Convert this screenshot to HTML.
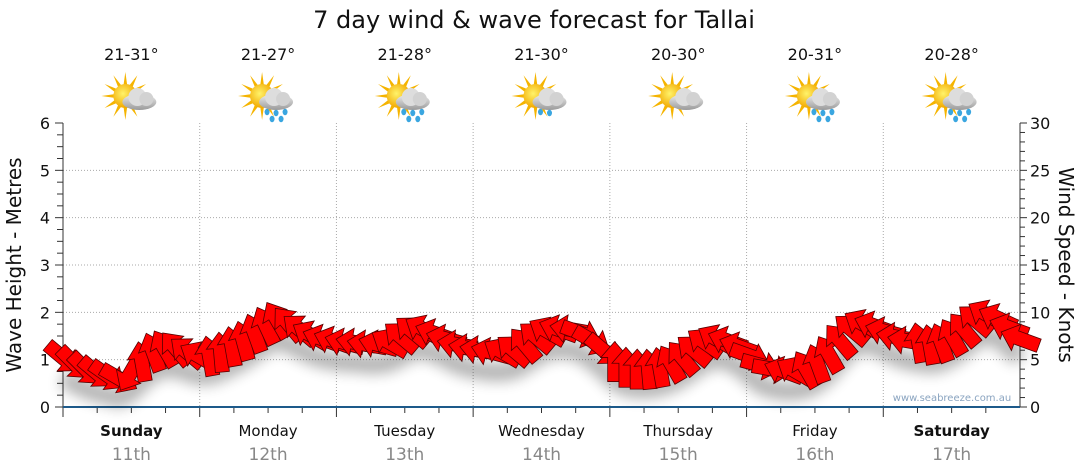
<!DOCTYPE html>
<html><head><meta charset="utf-8"><style>
body{margin:0;background:#fff;font-family:"DejaVu Sans","Liberation Sans",sans-serif}
svg{display:block}
</style></head><body>
<svg id="c" width="1080" height="475" viewBox="0 0 1080 475">
<defs>
<filter id="sh" x="-10%" y="-50%" width="120%" height="200%"><feGaussianBlur stdDeviation="7"/></filter>
<radialGradient id="sun" cx="0.4" cy="0.4" r="0.6"><stop offset="0" stop-color="#fff36a"/><stop offset="1" stop-color="#f2a800"/></radialGradient>
<linearGradient id="cl" x1="0" y1="0" x2="0" y2="1"><stop offset="0" stop-color="#eeeeee"/><stop offset="1" stop-color="#9a9a9a"/></linearGradient>
</defs>
<text x="534" y="28" text-anchor="middle" font-size="24" fill="#111">7 day wind &amp; wave forecast for Tallai</text>
<g id="grid"></g>
<g id="axes"></g>
<g id="icons"></g>
<g id="shadow" filter="url(#sh)" opacity="0.3"></g>
<g id="arrows"></g>
<text x="952" y="401" text-anchor="middle" font-size="10" fill="#8aa4c0">www.seabreeze.com.au</text>
<text transform="translate(21,265) rotate(-90)" text-anchor="middle" font-size="20" fill="#111">Wave Height - Metres</text>
<text transform="translate(1059,265) rotate(90)" text-anchor="middle" font-size="20" fill="#111">Wind Speed - Knots</text>
</svg>
<script>
const days=["Sunday","Monday","Tuesday","Wednesday","Thursday","Friday","Saturday"];
const dates=["11th","12th","13th","14th","15th","16th","17th"];
const temps=["21-31°","21-27°","21-28°","21-30°","20-30°","20-31°","20-28°"];
const rain=[0,1,1,0.5,0,1,1];
const waveTicks=[0,1,2,3,4,5,6];
const windTicks=[0,5,10,15,20,25,30];
const windSpeed=[5.2,4.6,4.0,3.6,3.3,3.0,3.6,4.8,5.8,6.2,6.2,5.8,5.4,
5.4,5.8,6.4,7.0,7.8,8.6,9.2,8.8,8.2,7.6,7.2,7.0,
6.8,6.8,6.6,6.6,6.8,7.4,8.0,8.2,7.8,7.2,6.6,6.2,
6.0,5.8,5.8,6.0,6.6,7.4,8.0,8.2,8.2,7.8,7.0,6.0,
4.8,4.2,4.0,4.0,4.2,4.6,5.2,6.0,6.8,7.2,7.0,6.4,
5.4,4.4,4.0,3.8,3.8,4.0,4.6,5.6,7.0,8.2,8.8,8.6,
8.0,7.4,7.0,6.8,6.6,6.8,7.4,8.2,9.2,9.8,9.4,8.4,7.2];
const windDir=[40,45,45,40,35,30,120,-100,-110,-120,-130,-140,-150,
-100,-95,-100,-105,-110,-115,-120,-130,-140,-150,-160,-160,
-165,-170,-170,-165,-150,-140,-140,-150,-160,-165,-170,-170,
-170,-165,-150,-140,-130,-140,-150,-160,-170,20,30,40,
-90,-90,-90,-95,-100,-120,-130,-140,-145,-150,-160,-160,
20,15,10,-160,-150,-120,-110,-120,-130,-140,-150,-160,
-165,-170,-170,-100,-100,-110,-120,-130,-140,-150,-155,-160,-160];
const NS="http://www.w3.org/2000/svg";
const X0=63,X1=1020,Y0=407,Y1=123,NPTS=windSpeed.length-1;
const xOf=i=>X0+(X1-X0)*i/NPTS;
const yW=m=>Y0-(Y0-Y1)*m/6;
const yK=k=>Y0-(Y0-Y1)*k/30;
function mk(tag,attrs,parent){const e=document.createElementNS(NS,tag);for(const k in attrs)e.setAttribute(k,attrs[k]);parent.appendChild(e);return e;}
const grid=document.getElementById('grid'),axes=document.getElementById('axes'),icons=document.getElementById('icons');
const dw=(X1-X0)/7;
waveTicks.forEach(t=>{
  if(t>0&&t<6){const l=mk('line',{x1:X0,x2:X1,y1:yW(t),y2:yW(t),stroke:'#aaa','stroke-dasharray':'1,2'},grid);
  }
  const tx=mk('text',{x:50,y:yW(t)+6,'text-anchor':'end','font-size':16,fill:'#111'},axes);tx.textContent=t;
  
});
for(let m=0;m<=6;m+=0.25){mk('line',{x1:m%1?57:55,x2:X0,y1:yW(m),y2:yW(m),stroke:'#333'},axes);}
for(let m=0;m<=30;m+=1){mk('line',{x1:X1,x2:m%5?X1+5:X1+7,y1:yK(m),y2:yK(m),stroke:'#333'},axes);}
windTicks.forEach(t=>{const tx=mk('text',{x:1030,y:yK(t)+6,'font-size':16,fill:'#111'},axes);tx.textContent=t;
  });
mk('line',{x1:X0,x2:X0,y1:Y1,y2:Y0,stroke:'#333'},axes);
mk('line',{x1:X1,x2:X1,y1:Y1,y2:Y0,stroke:'#333'},axes);
for(let d=0;d<7;d++){
  const x=X0+dw*d;
  if(d>0){const g=mk('line',{x1:x,x2:x,y1:Y1,y2:Y0,stroke:'#aaa','stroke-dasharray':'1,2'},grid);
  }
  for(let q=0;q<4;q++){mk('line',{x1:x+dw*q/4,x2:x+dw*q/4,y1:Y0,y2:Y0+(q?6:10),stroke:'#333'},axes);}
  const cx=x+dw/2;
  const a=mk('text',{x:cx,y:436,'text-anchor':'middle','font-size':15,fill:'#111','font-weight':(d==0||d==6)?'bold':'normal'},axes);a.textContent=days[d];
  
  const b=mk('text',{x:cx,y:460,'text-anchor':'middle','font-size':17,fill:'#888'},axes);b.textContent=dates[d];
  
  const t=mk('text',{x:cx,y:60,'text-anchor':'middle','font-size':16,fill:'#111'},icons);t.textContent=temps[d];
  
  const g=mk('g',{transform:`translate(${cx+2},100)`},icons);
  
  for(let r=0;r<12;r++){const ang=r*30*Math.PI/180;mk('polygon',{points:`${Math.cos(ang)*24-8},${Math.sin(ang)*24-4} ${Math.cos(ang+0.2)*10-8},${Math.sin(ang+0.2)*10-4} ${Math.cos(ang-0.2)*10-8},${Math.sin(ang-0.2)*10-4}`,fill:'#f5b400'},g);}
  mk('circle',{cx:-8,cy:-4,r:12,fill:'url(#sun)'},g);
  mk('ellipse',{cx:6,cy:2,rx:17,ry:8,fill:'url(#cl)'},g);
  mk('circle',{cx:4,cy:-3,r:9,fill:'#ddd'},g);
  mk('circle',{cx:13,cy:-1,r:7,fill:'#d2d2d2'},g);
  if(rain[d]){[[-3,12],[6,13],[15,12],[2,19],[11,19]].slice(0,rain[d]<1?2:5).forEach(p=>mk('ellipse',{cx:p[0],cy:p[1],rx:2.5,ry:3.2,fill:'#3aa6e0'},g));}
}
mk('line',{x1:X0,x2:X1,y1:Y0,y2:Y0,stroke:'#1d5a8a','stroke-width':2},axes);
const sh=document.getElementById('shadow'),ar=document.getElementById('arrows');
const pts=windSpeed.map((k,i)=>`${xOf(i)},${yK(k)+20}`).join(' ');
mk('polyline',{points:pts,fill:'none',stroke:'#000','stroke-width':18},sh);
const shape="-20,-7 4,-7 4,-14 20,0 4,14 4,7 -20,7";
windSpeed.forEach((k,i)=>{
  const p=mk('polygon',{points:shape,fill:'#ff0000',stroke:'#500','stroke-width':0.8,transform:`translate(${xOf(i)},${yK(k)}) rotate(${windDir[i]})`},ar);
  
  
});
</script>
</body></html>
